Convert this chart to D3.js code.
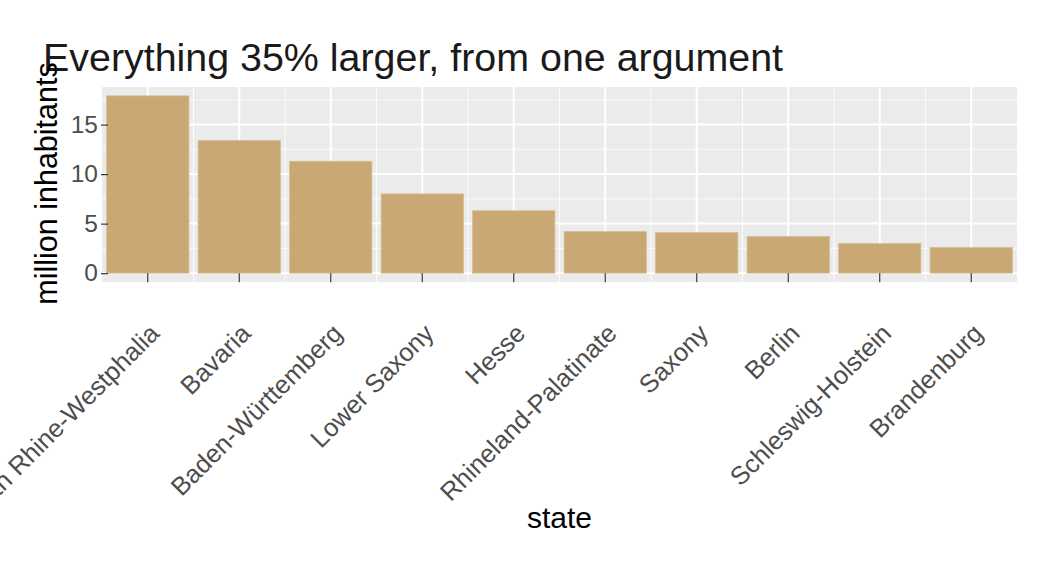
<!DOCTYPE html>
<html>
<head>
<meta charset="utf-8">
<script src="https://cdn.jsdelivr.net/npm/d3@7"></script>
<style>
  body { margin: 0; background: #fff; }
  svg text { font-family: "Liberation Sans", Arial, Helvetica, sans-serif; }
</style>
</head>
<body>
<svg id="chart" width="1050" height="570"></svg>
<script>
// population by state, million inhabitants
var states = ['North Rhine-Westphalia', 'Bavaria', 'Baden-Württemberg', 'Lower Saxony', 'Hesse',
  'Rhineland-Palatinate', 'Saxony', 'Berlin', 'Schleswig-Holstein', 'Brandenburg'];
var population = [17.9, 13.4, 11.3, 8.0, 6.3, 4.2, 4.1, 3.7, 3.0, 2.6];
var yTicks = [0, 5, 10, 15];
var yMinor = [2.5, 7.5, 12.5, 17.5];

var titleText = 'Everything 35% larger, from one argument',
  xTitle = 'state',
  yTitle = 'million inhabitants';

(function(){
  var svg = d3.select('#chart'),
    left = 102, right = 1017, top = 87, bottom = 282,
    maxV = d3.max(population),
    pad = maxV * 0.05,
    rows = states.map(function(s, i){ return {state: s, value: population[i]}; });

  var x = d3.scaleBand().domain(states).range([left, right])
    .paddingInner(0.1).paddingOuter(0.05);
  var y = d3.scaleLinear().domain([-pad, maxV + pad]).range([bottom, top]);

  // panel
  svg.append('rect')
    .attr('x', left).attr('y', top)
    .attr('width', right - left).attr('height', bottom - top)
    .attr('fill', '#ebebeb');

  var grid = svg.append('g');
  // minor grid
  grid.selectAll('line.ymin').data(yMinor).enter().append('line')
    .attr('x1', left).attr('x2', right)
    .attr('y1', function(d){ return y(d); }).attr('y2', function(d){ return y(d); })
    .attr('stroke', '#fff').attr('stroke-width', 1).attr('stroke-opacity', 0.8);
  grid.selectAll('line.xmin').data(states.slice(1)).enter().append('line')
    .attr('y1', top).attr('y2', bottom)
    .attr('x1', function(d){ return x(d) - x.step() * x.paddingInner() / 2; })
    .attr('x2', function(d){ return x(d) - x.step() * x.paddingInner() / 2; })
    .attr('stroke', '#fff').attr('stroke-width', 1).attr('stroke-opacity', 0.8);
  // major grid
  grid.selectAll('line.ymaj').data(yTicks).enter().append('line')
    .attr('x1', left).attr('x2', right)
    .attr('y1', function(d){ return y(d); }).attr('y2', function(d){ return y(d); })
    .attr('stroke', '#fff').attr('stroke-width', 2);
  grid.selectAll('line.xmaj').data(states).enter().append('line')
    .attr('y1', top).attr('y2', bottom)
    .attr('x1', function(d){ return x(d) + x.bandwidth() / 2; })
    .attr('x2', function(d){ return x(d) + x.bandwidth() / 2; })
    .attr('stroke', '#fff').attr('stroke-width', 2);

  // bars
  svg.append('g').selectAll('rect').data(rows).enter().append('rect')
    .attr('x', function(d){ return x(d.state); })
    .attr('width', x.bandwidth())
    .attr('y', function(d){ return y(d.value); })
    .attr('height', function(d){ return y(0) - y(d.value); })
    .attr('fill', '#c9a874')
    .attr('stroke', '#d6bf99').attr('stroke-width', 0.8);

  // axes
  var yAxis = svg.append('g')
    .attr('transform', 'translate(' + (left + 6) + ',0)')
    .call(d3.axisLeft(y).tickValues(yTicks).tickSize(7).tickPadding(3));
  yAxis.select('.domain').remove();
  yAxis.selectAll('line').attr('stroke', '#333').attr('stroke-width', 1.2);
  yAxis.selectAll('text').attr('font-size', 24.5).attr('fill', '#4d4d4d')
    .attr('font-family', '"Liberation Sans", Arial, sans-serif');

  var xAxis = svg.append('g')
    .attr('transform', 'translate(0,' + y(0) + ')')
    .call(d3.axisBottom(x).tickSize(9));
  xAxis.select('.domain').remove();
  xAxis.selectAll('line').attr('stroke', '#333').attr('stroke-width', 1.2);
  xAxis.selectAll('text')
    .attr('font-size', 25.5).attr('fill', '#4d4d4d')
    .attr('font-family', '"Liberation Sans", Arial, sans-serif')
    .attr('text-anchor', 'end')
    .attr('dy', null).attr('y', null)
    .attr('transform', 'translate(13,' + (335 - y(0)) + ') rotate(-45)');

  // titles
  svg.append('text').attr('x', 43).attr('y', 70.7)
    .attr('font-size', 39.4).attr('fill', '#1a1a1a')
    .text(titleText);
  svg.append('text').attr('x', (left + right) / 2).attr('y', 528)
    .attr('text-anchor', 'middle').attr('font-size', 30).attr('fill', '#000')
    .text(xTitle);
  svg.append('text')
    .attr('transform', 'translate(57,' + 183.5 + ') rotate(-90)')
    .attr('text-anchor', 'middle').attr('font-size', 30.5).attr('fill', '#000')
    .text(yTitle);
})();
</script>
</body>
</html>
